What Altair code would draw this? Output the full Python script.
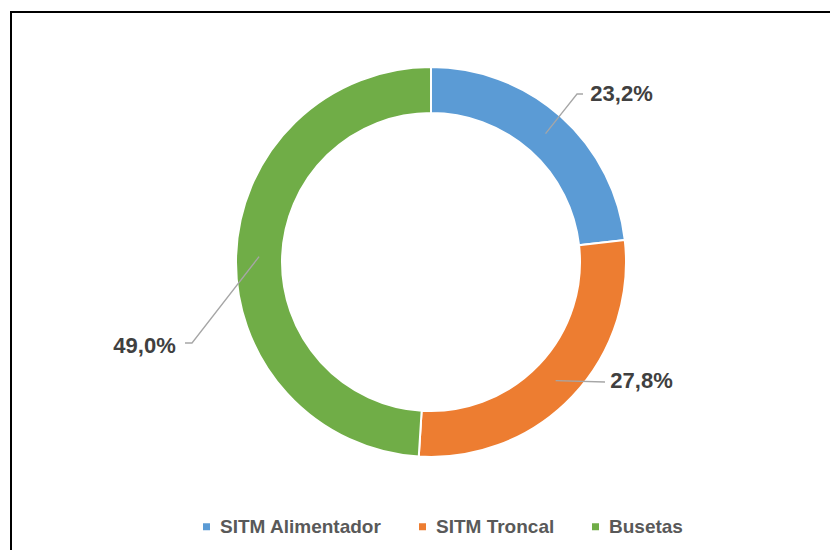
import math
import altair as alt
import pandas as pd

# ---- data ----
categories = ["SITM Alimentador", "SITM Troncal", "Busetas"]
values = [23.2, 27.8, 49.0]
label_texts = ["23,2%", "27,8%", "49,0%"]
colors = ["#5B9BD5", "#ED7D31", "#70AD47"]

# ---- layout (chart pixel coords) ----
W, H = 822, 542
CX, CY = 423, 254
R_OUT, R_IN = 195, 149
R_LEADER = 172
# leader-line bend/end points and label centres
leader_bends = [[(569, 86), (575, 86)], [(597, 374)], [(184, 335), (177, 335)]]
label_pos = [(613.5, 85.5), (633.5, 372.5), (136.5, 337.5)]

df = pd.DataFrame({"cat": categories, "value": values, "idx": list(range(len(values)))})

# leader lines from slice mid-angles
total = sum(values)
rows = []
cum = 0.0
for i, v in enumerate(values):
    mid = (cum + v / 2) / total * 2 * math.pi
    cum += v
    sx = CX + R_LEADER * math.sin(mid)
    sy = CY - R_LEADER * math.cos(mid)
    pts = [(sx, sy)] + leader_bends[i]
    for j, (px, py) in enumerate(pts):
        rows.append({"lab": label_texts[i], "ord": j, "px": px, "py": py})
lines_df = pd.DataFrame(rows)

text_df = pd.DataFrame({
    "lab": label_texts,
    "px": [p[0] for p in label_pos],
    "py": [p[1] for p in label_pos],
})

arc = alt.Chart(df).mark_arc(
    outerRadius=R_OUT, innerRadius=R_IN, stroke="white", strokeWidth=2
).encode(
    theta=alt.Theta("value:Q", stack=True),
    order=alt.Order("idx:Q"),
    color=alt.Color(
        "cat:N",
        scale=alt.Scale(domain=categories, range=colors),
        sort=categories,
        legend=alt.Legend(
            orient="none", legendX=189, legendY=509, direction="horizontal",
            title=None, symbolType="square", symbolSize=49, symbolStrokeWidth=0,
            labelFontSize=19, labelFont="Liberation Sans", labelFontWeight="bold",
            labelColor="#595959", columnPadding=31, labelOffset=4, labelLimit=400,
        ),
    ),
    x=alt.value(CX),
    y=alt.value(CY),
)

leaders = alt.Chart(lines_df).mark_line(color="#A6A6A6", strokeWidth=1.3).encode(
    x=alt.X("px:Q", scale=None, axis=None),
    y=alt.Y("py:Q", scale=None, axis=None),
    detail="lab:N",
    order="ord:Q",
)

texts = alt.Chart(text_df).mark_text(
    font="Liberation Sans", fontSize=22, fontWeight="bold", color="#404040",
    align="center", baseline="middle"
).encode(
    x=alt.X("px:Q", scale=None, axis=None),
    y=alt.Y("py:Q", scale=None, axis=None),
    text="lab:N",
)

border_v = alt.Chart(df).mark_rule(color="#000000", strokeWidth=2).encode(
    x=alt.value(3), y=alt.value(3), y2=alt.value(H)
)
border_h = alt.Chart(df).mark_rule(color="#000000", strokeWidth=2).encode(
    x=alt.value(2), x2=alt.value(W), y=alt.value(4)
)

chart = alt.layer(arc, leaders, texts, border_v, border_h).properties(
    width=W, height=H, padding=0, autosize="none"
).configure_view(stroke=None)

chart.save("out.html", embed_options={"renderer": "svg", "actions": False})
